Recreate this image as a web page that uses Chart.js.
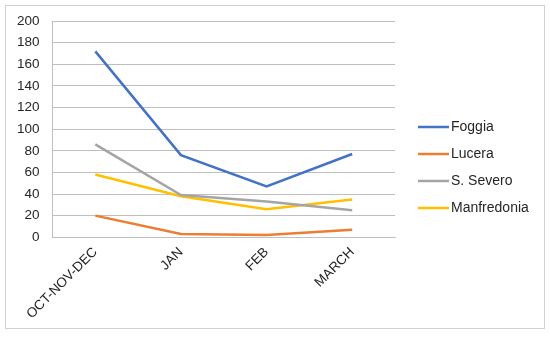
<!DOCTYPE html>
<html>
<head>
<meta charset="utf-8">
<script src="https://cdn.jsdelivr.net/npm/chart.js@4"></script>
<style>
  html, body { margin: 0; padding: 0; background: #ffffff; }
  .wrap { position: relative; width: 550px; height: 337px; }
  .frame { position: absolute; left: 5px; top: 5px; width: 538px; height: 322px; border: 1px solid #d0d0d0; pointer-events: none; }
</style>
</head>
<body>
<div class="wrap">
  <canvas id="chart" width="550" height="337"></canvas>
  <div class="frame"></div>
</div>
<script>
// Chart data
const categories = ['OCT-NOV-DEC', 'JAN', 'FEB', 'MARCH'];
const foggia = [172, 76, 47, 77];
const lucera = [20, 3, 2, 7];
const sSevero = [86, 39, 33, 25];
const manfredonia = [58, 38, 26, 35];
const yTicks = [0, 20, 40, 60, 80, 100, 120, 140, 160, 180, 200];

const FONT = "'Liberation Sans', Arial, sans-serif";

function series(label, data, color) {
  return {
    label: label,
    data: data,
    borderColor: color,
    backgroundColor: color,
    borderWidth: 2.5,
    pointRadius: 0,
    pointHoverRadius: 0,
    tension: 0
  };
}

// Legend drawn on the right, like the Excel one (line swatch + label)
const sideLegend = {
  id: 'sideLegend',
  afterDraw(chart) {
    const c = chart.ctx;
    const x0 = chart.chartArea.right + 23;
    const top = 127;
    const step = 27;
    c.save();
    c.font = '14px ' + FONT;
    c.textBaseline = 'middle';
    c.textAlign = 'left';
    chart.data.datasets.forEach((ds, i) => {
      const y = top + i * step;
      c.strokeStyle = ds.borderColor;
      c.lineWidth = 2.5;
      c.beginPath();
      c.moveTo(x0, y);
      c.lineTo(x0 + 31, y);
      c.stroke();
      c.fillStyle = '#262626';
      c.fillText(ds.label, x0 + 33, y);
    });
    c.restore();
  }
};

const ctx = document.getElementById('chart').getContext('2d');
new Chart(ctx, {
  type: 'line',
  data: {
    labels: categories,
    datasets: [
      series('Foggia', foggia, '#4472C4'),
      series('Lucera', lucera, '#ED7D31'),
      series('S. Severo', sSevero, '#A5A5A5'),
      series('Manfredonia', manfredonia, '#FFC000')
    ]
  },
  options: {
    responsive: false,
    animation: false,
    layout: {
      padding: { left: 4, top: 19, right: 155, bottom: 8 }
    },
    plugins: {
      tooltip: { enabled: false },
      legend: { display: false }
    },
    scales: {
      x: {
        offset: true,
        grid: { display: false, drawTicks: false },
        border: { display: true, color: '#bfbfbf', width: 1 },
        ticks: {
          color: '#262626',
          font: { family: FONT, size: 13.5 },
          maxRotation: 45,
          minRotation: 45,
          padding: 7
        }
      },
      y: {
        min: 0,
        max: 200,
        afterBuildTicks: (axis) => { axis.ticks = yTicks.map(v => ({ value: v })); },
        grid: { color: '#bfbfbf', lineWidth: 1, drawTicks: false },
        border: { display: true, color: '#bfbfbf', width: 1 },
        ticks: {
          color: '#262626',
          font: { family: FONT, size: 13.5 },
          padding: 13
        }
      }
    }
  },
  plugins: [sideLegend]
});
</script>
</body>
</html>
